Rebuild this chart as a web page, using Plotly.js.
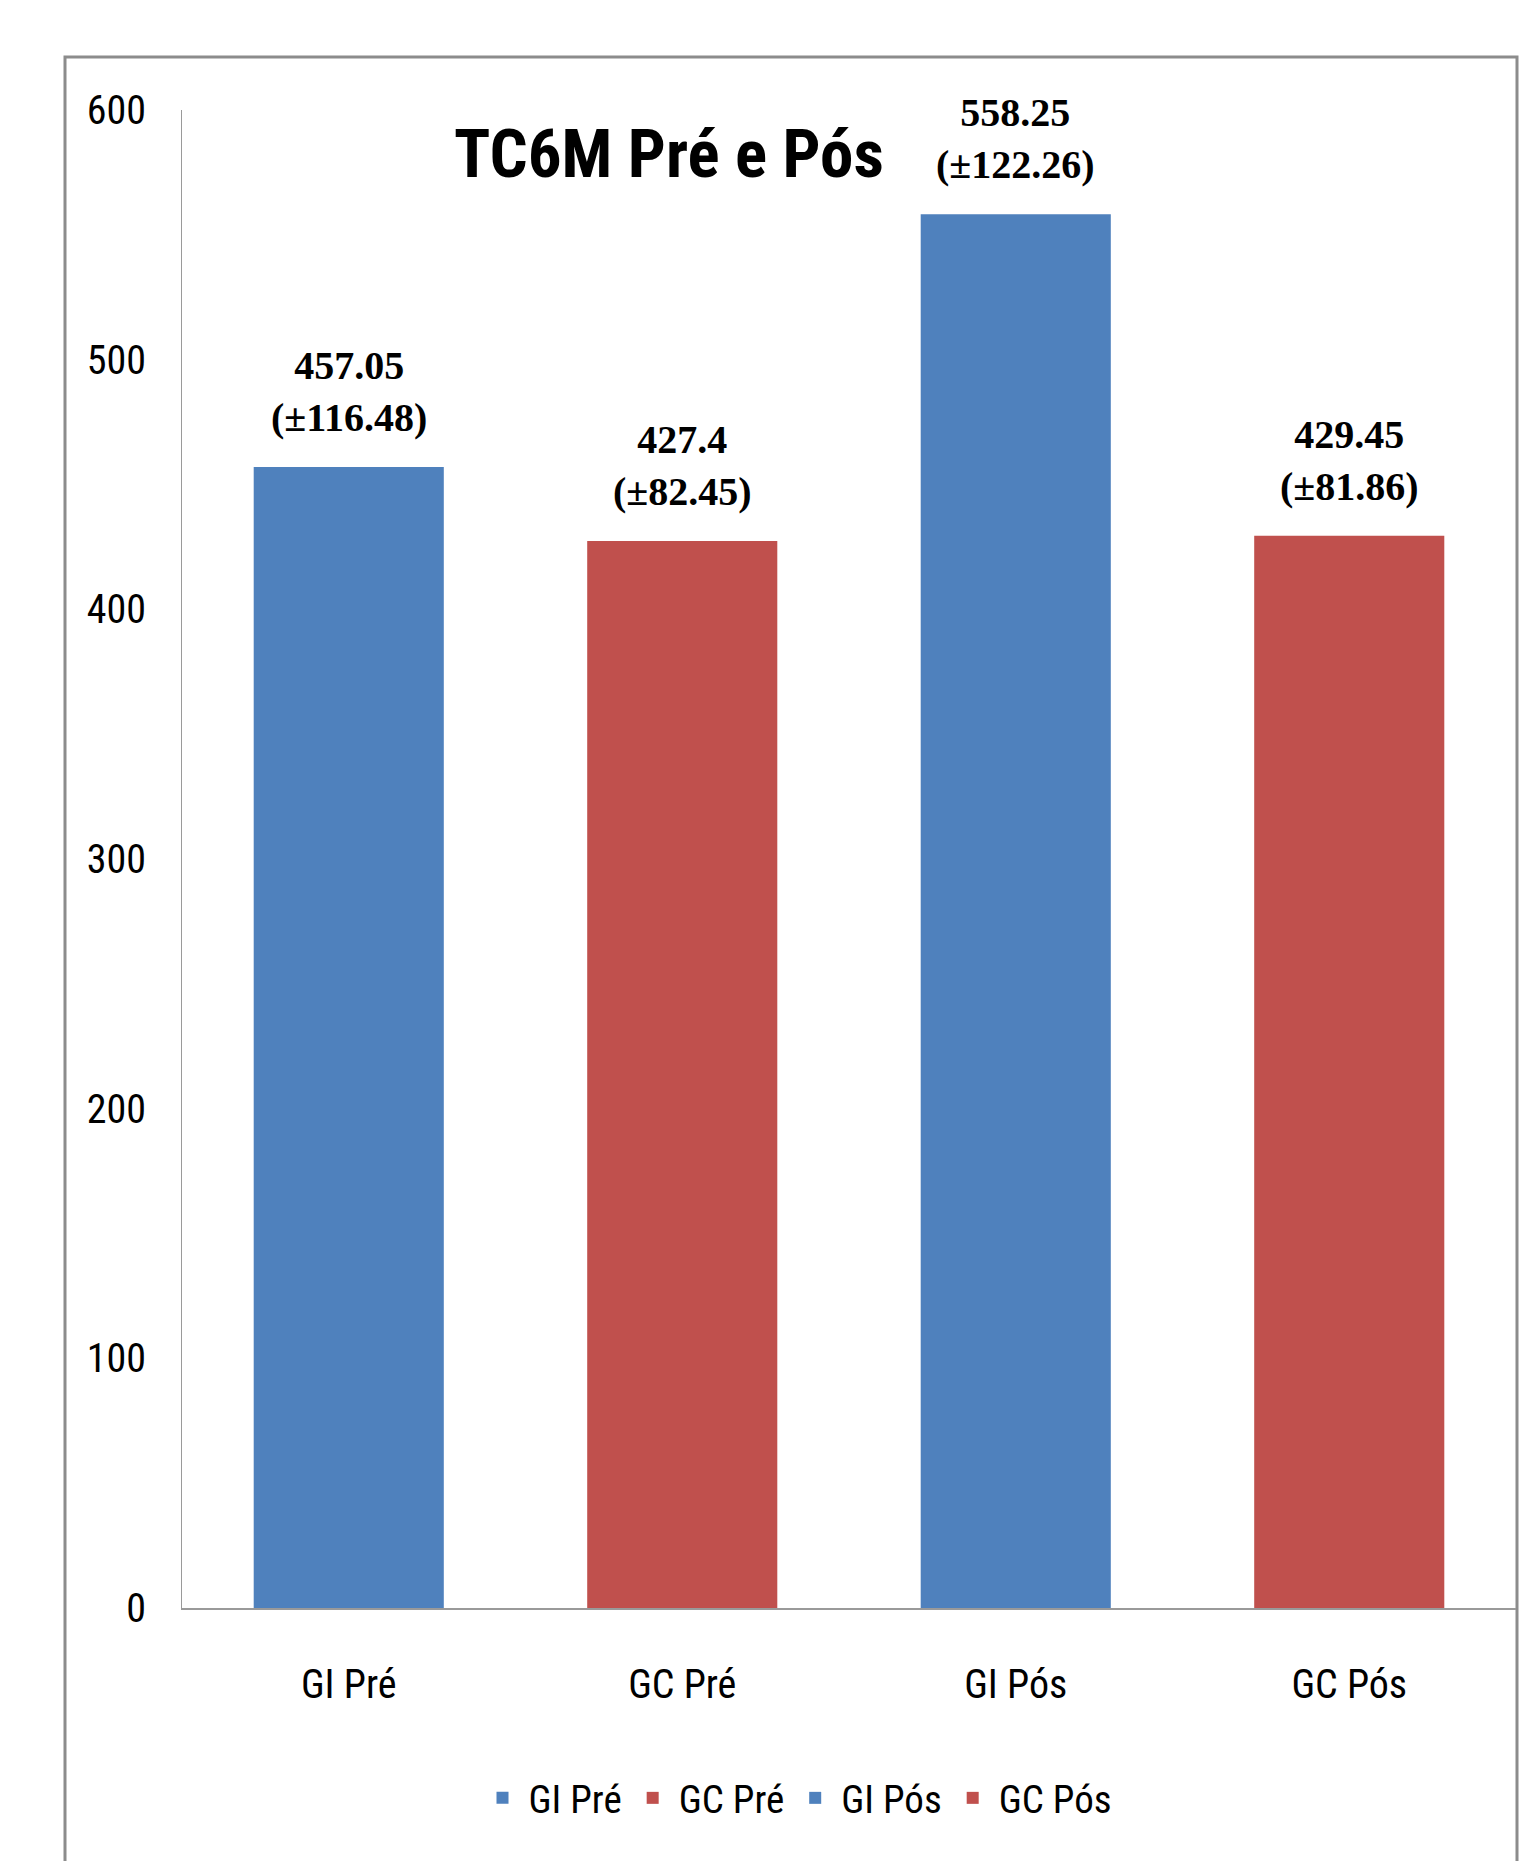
<!DOCTYPE html>
<html>
<head>
<meta charset="utf-8">
<script src="https://cdn.plot.ly/plotly-3.0.1.min.js"></script>
<style>
  html, body { margin: 0; padding: 0; background: #fff; overflow: hidden; }
  #chart { width: 1538px; height: 1861px; }
</style>
</head>
<body>
<div id="chart"></div>
<script>
const categories = ["GI Pré", "GC Pré", "GI Pós", "GC Pós"];
const means = [457.05, 427.4, 558.25, 429.45];
const sds = ["116.48", "82.45", "122.26", "81.86"];
const meanLabels = ["457.05", "427.4", "558.25", "429.45"];
const colors = ["#4F81BD", "#C0504D", "#4F81BD", "#C0504D"];
const yTicks = [0, 100, 200, 300, 400, 500, 600];

const narrow = "'Liberation Sans Narrow', 'Arial Narrow', 'Roboto Condensed', 'Liberation Sans', Arial, sans-serif";
const serif = "'Liberation Serif', 'Times New Roman', serif";

const traces = categories.map((c, i) => ({
  type: "bar",
  name: c,
  x: [c],
  y: [means[i]],
  width: 0.57,
  marker: { color: colors[i] },
  hoverinfo: "x+y"
}));

const annotations = categories.map((c, i) => ({
  x: c,
  y: means[i],
  xref: "x",
  yref: "y",
  text: "<b>" + meanLabels[i] + "</b><br><b>(±" + sds[i] + ")</b>",
  showarrow: false,
  yanchor: "bottom",
  xanchor: "center",
  yshift: 25,
  font: { family: serif, size: 40, color: "#000" }
}));

const W = 1538, H = 1861;
const L = 182, R = 22, T = 110, B = 253;
const pw = W - L - R, ph = H - T - B;
const px = v => (v - L) / pw;
const py = v => 1 - (v - T) / ph;

const layout = {
  width: W,
  height: H,
  margin: { l: L, r: R, t: T, b: B, pad: 0 },
  paper_bgcolor: "#fff",
  plot_bgcolor: "#fff",
  barmode: "overlay",
  showlegend: true,
  title: {
    text: "<b>TC6M Pré e Pós</b>",
    font: { family: narrow, size: 67, color: "#000" },
    xref: "container", yref: "container",
    x: 669 / W, y: 1 - 154 / H,
    xanchor: "center", yanchor: "middle"
  },
  xaxis: {
    type: "category",
    categoryorder: "array",
    categoryarray: categories,
    showline: true,
    linecolor: "#9a9a9a",
    linewidth: 2,
    ticks: "",
    showgrid: false,
    zeroline: false,
    ticklabelstandoff: 40,
    tickfont: { family: narrow, size: 40, color: "#000" },
    fixedrange: true
  },
  yaxis: {
    range: [0, 600],
    tickvals: yTicks,
    ticktext: yTicks.map(String),
    showline: true,
    linecolor: "#9a9a9a",
    linewidth: 1,
    ticks: "",
    showgrid: false,
    zeroline: false,
    ticklabelstandoff: 27,
    tickfont: { family: narrow, size: 40, color: "#000" },
    fixedrange: true
  },
  legend: {
    orientation: "h",
    xref: "container", yref: "container",
    x: 797 / W, y: 1 - 1798 / H,
    xanchor: "center", yanchor: "middle",
    font: { family: narrow, size: 39, color: "#000" },
    itemwidth: 42,
    traceorder: "normal"
  },
  annotations: annotations,
  shapes: [{
    type: "rect",
    xref: "paper", yref: "paper",
    x0: px(65), x1: px(1517),
    y0: py(1900), y1: py(57),
    line: { color: "#8c8c8c", width: 3 },
    fillcolor: "rgba(0,0,0,0)",
    layer: "below"
  }]
};

Plotly.newPlot("chart", traces, layout, { displayModeBar: false, staticPlot: true });
</script>
</body>
</html>
